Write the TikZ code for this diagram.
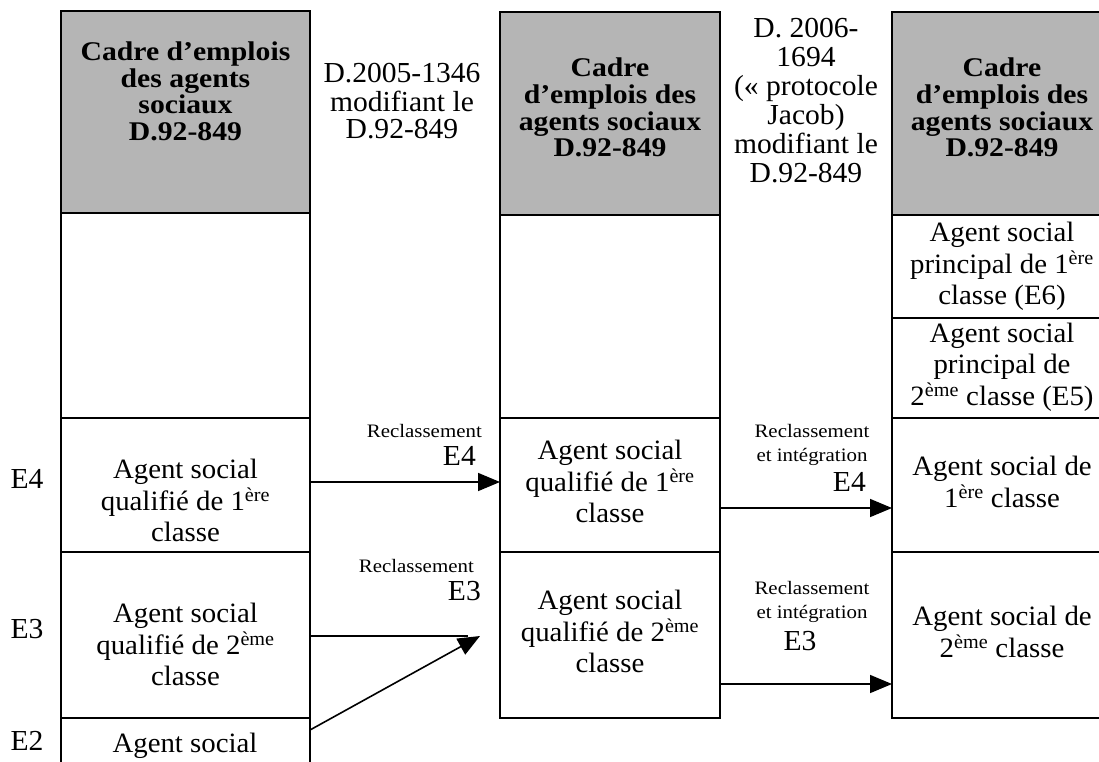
\documentclass[tikz,border=0pt]{standalone}
\usepackage{fontspec}
\setmainfont{Liberation Serif}
\usepackage{graphicx}
\usetikzlibrary{arrows.meta}
\newcommand\bodytxt[2][0pt]{\raisebox{#1}[\height][\depth]{\scalebox{1.03}[1]{\begin{tabular}{@{}c@{}}#2\end{tabular}}}}
\newcommand\dtxt[1]{\scalebox{1.02}[1]{\begin{tabular}{@{}c@{}}#1\end{tabular}}}
\newcommand\headtxt[2]{\raisebox{#1}[\height][\depth]{\scalebox{1.1}[1]{\bfseries\begin{tabular}{@{}c@{}}#2\end{tabular}}}}
\newcommand\expo[1]{\textsuperscript{#1}}
\begin{document}
\begin{tikzpicture}[x=1pt,y=-1pt,
  cell/.style={draw=black, line width=1.7pt, inner sep=0pt, outer sep=0pt, anchor=north west,
     font=\fontsize{28}{31}\selectfont},
  head/.style={cell, fill=black!29, font=\fontsize{27}{26.5}\selectfont},
  plain/.style={inner sep=0pt, font=\fontsize{29}{27}\selectfont},
  small/.style={inner sep=0pt, font=\fontsize{19}{24}\selectfont},
  arr/.style={line width=1.6pt, -{Triangle[length=22pt,width=18pt]}},
  conn/.style={line width=1.6pt}]
\useasboundingbox (0,0) rectangle (1099,762);
\clip (0,0) rectangle (1099,762);
\fill[white] (0,0) rectangle (1099,762);

% left column
\node[head, minimum width=249pt, minimum height=202pt] (L0) at (61,11)
  {\headtxt{17pt}{Cadre d’emplois\\des agents\\sociaux\\D.92-849}};
\node[cell, minimum width=249pt, minimum height=205pt] (L1) at (61,213) {};
\node[cell, minimum width=249pt, minimum height=134pt] (L4) at (61,418)
  {\bodytxt[-19pt]{Agent social\\qualifié de 1\expo{ère}\\classe}};
\node[cell, minimum width=249pt, minimum height=166pt] (L3) at (61,552)
  {\bodytxt[-13pt]{Agent social\\qualifié de 2\expo{ème}\\classe}};
\node[cell, minimum width=249pt, minimum height=82pt] (L2) at (61,718) {};
\node[inner sep=0pt, font=\fontsize{28}{31}\selectfont] (L2t) at (185,746) {\bodytxt{Agent social}};

% middle column
\node[head, minimum width=220pt, minimum height=203pt] (M0) at (500,12)
  {\headtxt{2pt}{Cadre\\d’emplois des\\agents sociaux\\D.92-849}};
\node[cell, minimum width=220pt, minimum height=203pt] (M1) at (500,215) {};
\node[cell, minimum width=220pt, minimum height=134pt] (M4) at (500,418)
  {\bodytxt{Agent social\\qualifié de 1\expo{ère}\\classe}};
\node[cell, minimum width=220pt, minimum height=166pt] (M3) at (500,552)
  {\bodytxt{Agent social\\qualifié de 2\expo{ème}\\classe}};

% right column
\node[head, minimum width=220pt, minimum height=203pt] (R0) at (892,12)
  {\headtxt{2pt}{Cadre\\d’emplois des\\agents sociaux\\D.92-849}};
\node[cell, minimum width=220pt, minimum height=103pt] (R6) at (892,215)
  {\bodytxt{Agent social\\principal de 1\expo{ère}\\classe (E6)}};
\node[cell, minimum width=220pt, minimum height=100pt] (R5) at (892,318)
  {\bodytxt{Agent social\\principal de\\2\expo{ème} classe (E5)}};
\node[cell, minimum width=220pt, minimum height=134pt] (R4) at (892,418)
  {\bodytxt{Agent social de\\1\expo{ère} classe}};
\node[cell, minimum width=220pt, minimum height=166pt] (R3) at (892,552)
  {\bodytxt{Agent social de\\2\expo{ème} classe}};

% decree texts
\node[plain] (D1) at (402,105) {\dtxt{D.2005-1346\\modifiant le\\D.92-849}};
\node[plain, font=\fontsize{29}{29}\selectfont] (D2) at (806,104) {\dtxt{D. 2006-\\1694\\(« protocole\\Jacob)\\modifiant le\\D.92-849}};

% echelon labels
\node[plain] (E4) at (27,483) {\dtxt{E4}};
\node[plain] (E3) at (27,633) {\dtxt{E3}};
\node[plain] (E2) at (27,745) {\dtxt{E2}};

% arrow labels
\node[small, anchor=east] (a1) at (482,431) {\scalebox{1.1}[1]{Reclassement}};
\node[plain, anchor=east] (a1e) at (476,460) {\dtxt{E4}};
\node[small, anchor=east] (a2) at (474,566) {\scalebox{1.1}[1]{Reclassement}};
\node[plain, anchor=east] (a2e) at (481,595) {\dtxt{E3}};
\node[small] (b1) at (812,445) {\scalebox{1.1}[1]{\begin{tabular}{@{}c@{}}Reclassement\\et intégration\end{tabular}}};
\node[plain, anchor=east] (b1e) at (866,486) {\dtxt{E4}};
\node[small] (b2) at (812,602) {\scalebox{1.1}[1]{\begin{tabular}{@{}c@{}}Reclassement\\et intégration\end{tabular}}};
\node[plain] (b2e) at (800,645) {\dtxt{E3}};

% connectors
\coordinate (t3) at (480,636);
\coordinate (h3) at (468,636);
\draw[arr] ([yshift=3pt]L4.east) -- ([yshift=3pt]M4.west);
\draw[conn] ([yshift=-1pt]L3.east) -- (h3);
\draw[arr] ([yshift=29pt]L2.east) -- (t3);
\draw[arr] ([yshift=-23pt]M4.east) -- ([yshift=-23pt]R4.west);
\draw[arr] ([yshift=-49pt]M3.east) -- ([yshift=-49pt]R3.west);
\end{tikzpicture}
\end{document}
